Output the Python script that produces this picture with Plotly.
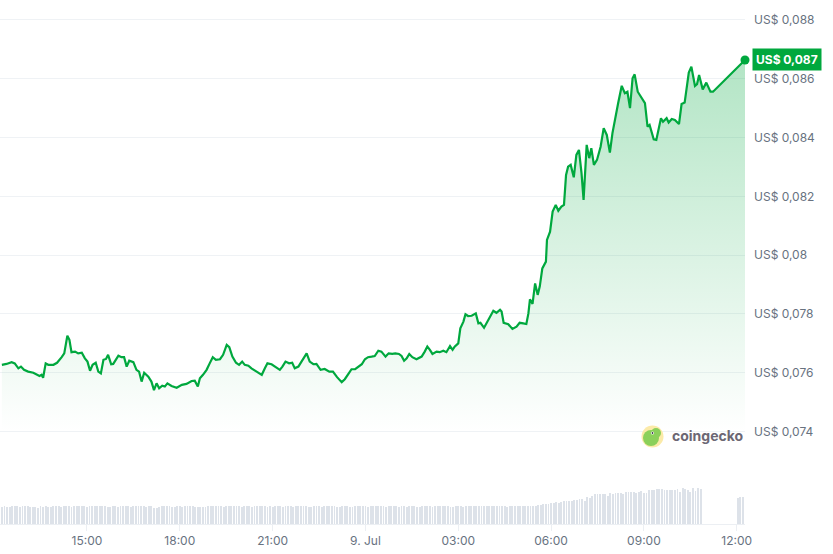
import pandas as pd
import plotly.graph_objects as go

# price series, 8-9 Jul (minutes after 12:00 on 8 Jul)
start = pd.Timestamp("2024-07-08 12:00")
minutes = [
    15, 24, 34, 40, 47, 52, 58, 66, 76, 82,
    88, 92, 95, 100, 105, 115, 122, 131, 136, 142,
    146, 150, 157, 163, 170, 176, 181, 186, 191, 197,
    202, 207, 212, 217, 221, 227, 231, 241, 247, 252,
    257, 262, 270, 276, 281, 286, 291, 299, 305, 310,
    315, 320, 326, 331, 336, 344, 354, 364, 373, 383,
    389, 395, 399, 405, 412, 418, 424, 430, 438, 444,
    451, 456, 462, 469, 475, 481, 486, 493, 499, 509,
    519, 525, 530, 538, 544, 554, 559, 565, 572, 578,
    583, 590, 596, 606, 612, 619, 625, 633, 641, 650,
    657, 665, 674, 680, 687, 693, 700, 706, 713, 719,
    725, 732, 738, 745, 751, 759, 765, 772, 778, 785,
    790, 795, 800, 805, 811, 819, 829, 835, 840, 845,
    850, 858, 864, 871, 877, 884, 889, 893, 900, 904,
    910, 914, 919, 926, 934, 939, 943, 950, 958, 968,
    974, 981, 984, 988, 997, 1005, 1013, 1019, 1026, 1032,
    1036, 1039, 1044, 1049, 1054, 1058, 1063, 1070, 1072, 1078,
    1083, 1089, 1094, 1100, 1105, 1109, 1113, 1118, 1124, 1129,
    1134, 1139, 1143, 1149, 1154, 1158, 1163, 1169, 1176, 1182,
    1188, 1194, 1199, 1204, 1210, 1217, 1223, 1228, 1233, 1238,
    1242, 1248, 1254, 1262, 1267, 1271, 1279, 1284, 1293, 1297,
    1304, 1308, 1314, 1320, 1328, 1333, 1339, 1347, 1352, 1359,
    1363, 1367, 1374, 1381, 1389, 1394, 1456,
]
price = [
    .07627, .07630, .07636, .07632, .07615, .07621, .07610, .07604, .07600, .07593,
    .07589, .07593, .07583, .07632, .07627, .07627, .07634, .07653, .07666, .07726,
    .07712, .07670, .07672, .07666, .07668, .07649, .07638, .07607, .07627, .07634,
    .07604, .07598, .07644, .07647, .07661, .07629, .07630, .07658, .07653, .07653,
    .07621, .07641, .07636, .07610, .07604, .07570, .07600, .07587, .07570, .07541,
    .07564, .07547, .07556, .07553, .07564, .07555, .07549, .07559, .07562, .07572,
    .07573, .07553, .07581, .07593, .07610, .07632, .07653, .07644, .07646, .07661,
    .07695, .07687, .07655, .07634, .07627, .07638, .07627, .07624, .07615, .07604,
    .07593, .07615, .07632, .07629, .07621, .07610, .07621, .07638, .07632, .07634,
    .07615, .07621, .07638, .07666, .07638, .07629, .07630, .07610, .07613, .07604,
    .07604, .07585, .07568, .07578, .07596, .07612, .07612, .07621, .07629, .07646,
    .07653, .07655, .07657, .07675, .07672, .07655, .07666, .07664, .07666, .07664,
    .07657, .07641, .07649, .07664, .07653, .07646, .07655, .07672, .07689, .07678,
    .07664, .07672, .07670, .07675, .07670, .07691, .07678, .07689, .07700, .07751,
    .07774, .07799, .07793, .07794, .07802, .07768, .07770, .07753, .07780, .07811,
    .07804, .07814, .07808, .07770, .07765, .07749, .07757, .07770, .07768, .07766,
    .07802, .07850, .07834, .07904, .07865, .07893, .07955, .07978, .08052, .08080,
    .08148, .08171, .08151, .08165, .08171, .08273, .08301, .08307, .08265, .08341,
    .08358, .08279, .08188, .08375, .08330, .08364, .08307, .08324, .08369, .08432,
    .08409, .08349, .08415, .08466, .08517, .08576, .08551, .08556, .08500, .08602,
    .08615, .08556, .08539, .08517, .08437, .08443, .08394, .08392, .08466, .08454,
    .08466, .08451, .08463, .08460, .08446, .08514, .08519, .08621, .08641, .08576,
    .08582, .08613, .08564, .08587, .08556, .08556, .08664,
]

# 5-minute volume bars (thousand USD), from 12:15 until the data gap
volume_main = [
    172, 180, 166, 165, 180, 180, 180, 166, 176, 180, 174, 172, 172, 166, 162, 178, 166, 178, 172, 172,
    174, 176, 178, 172, 176, 180, 176, 172, 178, 178, 180, 176, 176, 166, 178, 178, 178, 178, 180, 178,
    180, 172, 172, 176, 176, 166, 180, 176, 176, 178, 168, 178, 178, 180, 176, 180, 172, 178, 180, 162,
    162, 168, 174, 176, 180, 176, 172, 172, 176, 180, 166, 176, 176, 180, 178, 166, 168, 172, 172, 172,
    176, 176, 176, 178, 180, 176, 172, 176, 176, 176, 176, 180, 176, 172, 178, 180, 176, 168, 174, 178,
    180, 178, 176, 172, 178, 168, 180, 178, 176, 170, 176, 178, 180, 172, 178, 180, 176, 176, 178, 172,
    166, 176, 178, 176, 172, 174, 176, 178, 180, 176, 170, 172, 176, 178, 176, 166, 168, 176, 178, 180,
    178, 176, 172, 174, 176, 180, 178, 174, 176, 170, 176, 178, 180, 176, 172, 176, 174, 172, 178, 180,
    176, 172, 168, 178, 176, 180, 176, 172, 174, 176, 178, 180, 178, 176, 172, 170, 176, 178, 180, 172,
    176, 178, 176, 180, 174, 176, 178, 180, 176, 178, 180, 182, 178, 176, 178, 176, 172, 176, 178, 180,
    176, 178, 180, 178, 176, 180, 178, 182, 186,
    190, 195, 200, 200, 205, 210, 215, 205, 215, 225, 230, 230, 225, 240, 235, 250, 250, 230, 265, 260,
    280, 295, 297, 297, 297, 297, 280, 305, 295, 307, 307, 307, 300, 315, 322, 315, 315, 310, 322, 332,
    305, 305, 335, 335, 335, 345, 347, 347, 340, 340, 340, 340, 340, 347, 320, 357, 350, 335, 320, 357,
    330, 357, 352,
]
volume_end_minutes = [1442, 1447, 1452]
volume_end = [257, 267, 267]

tick_vals = ["2024-07-08 15:00", "2024-07-08 18:00", "2024-07-08 21:00", "2024-07-09 00:00",
             "2024-07-09 03:00", "2024-07-09 06:00", "2024-07-09 09:00", "2024-07-09 12:00"]
tick_text = ["15:00", "18:00", "21:00", "9. Jul", "03:00", "06:00", "09:00", "12:00"]

green = "#00a83e"
grey_text = "#68727f"
font = "Inter, Noto Sans, sans-serif"

times = start + pd.to_timedelta(minutes, unit="min")
vol_minutes = list(range(15, 15 + 5 * len(volume_main), 5)) + volume_end_minutes
vol_times = start + pd.to_timedelta(vol_minutes, unit="min")
volumes = volume_main + volume_end

fig = go.Figure()

fig.add_trace(go.Bar(
    x=vol_times, y=volumes, yaxis="y2",
    width=1.7 * 60000,
    marker=dict(color="#dde2e9", line=dict(width=0)),
    hoverinfo="skip", showlegend=False,
))

fig.add_trace(go.Scatter(
    x=times, y=price, mode="lines",
    line=dict(color=green, width=2.2),
    fill="tozeroy",
    fillgradient=dict(
        type="vertical", start=0.074, stop=price[-1],
        colorscale=[[0, "rgba(0,168,62,0.0)"], [1, "rgba(0,168,62,0.30)"]],
    ),
    showlegend=False,
))

fig.add_trace(go.Scatter(
    x=[times[-1]], y=[price[-1]], mode="markers",
    marker=dict(color=green, size=9),
    cliponaxis=False, showlegend=False,
))

last_label = "US$ " + f"{round(price[-1], 3):.3f}".replace(".", ",")


def px_circle(cx, cy, r, color):
    # circle in paper coords of the 745x524 plot area
    return dict(type="circle", xref="paper", yref="paper",
                x0=(cx - r) / 745, x1=(cx + r) / 745,
                y0=(524 - cy - r) / 524, y1=(524 - cy + r) / 524,
                fillcolor=color, line=dict(width=0))


fig.update_layout(
    width=833, height=554,
    margin=dict(l=0, r=88, t=0, b=30),
    paper_bgcolor="white", plot_bgcolor="white",
    separators=",.",
    font=dict(family=font, size=12, color=grey_text),
    bargap=0,
    xaxis=dict(
        anchor="y2",
        range=["2024-07-08 12:11:24", "2024-07-09 12:16:00"],
        tickvals=tick_vals, ticktext=tick_text,
        showgrid=False, zeroline=False,
        showline=True, linecolor="#eceff3", linewidth=1,
        ticks="outside", ticklen=6, tickcolor="#eceff3",
        tickfont=dict(size=12, color=grey_text),
    ),
    yaxis=dict(
        domain=[0.1708, 1],
        range=[0.0739, 0.08868],
        side="right",
        tick0=0.074, dtick=0.002,
        tickprefix="US$ ", tickformat=".3~f",
        showgrid=True, gridcolor="#eff2f5", gridwidth=1,
        zeroline=False, showline=False, ticks="",
        ticklabelstandoff=8,
        tickfont=dict(size=12, color=grey_text),
    ),
    yaxis2=dict(
        domain=[0, 36 / 524],
        range=[0, max(volumes)],
        visible=False,
    ),
    annotations=[
        dict(
            text="<b>" + last_label + "</b>", xref="paper", x=1, xanchor="left", xshift=7,
            yref="y", y=price[-1], yanchor="middle",
            showarrow=False, bgcolor=green, borderpad=3,
            font=dict(family=font, size=12, color="white"),
        ),
        dict(
            text="<b>coingecko</b>", xref="paper", x=670 / 745, xanchor="left",
            yref="paper", y=(524 - 436) / 524, yanchor="middle",
            showarrow=False, font=dict(family=font, size=14, color="#6c6774"),
        ),
    ],
    shapes=[
        px_circle(652.5, 436.5, 11, "#fbeaa8"),
        px_circle(651, 438, 8, "#8bd05a"),
        px_circle(656, 433, 5, "#8bd05a"),
        px_circle(652.5, 433, 1.6, "#ffffff"),
        px_circle(652.5, 433, 0.9, "#3d3d4a"),
    ],
)

fig.write_html("out.html", config={"displayModeBar": False},
               post_script="document.body.style.margin='0';")
